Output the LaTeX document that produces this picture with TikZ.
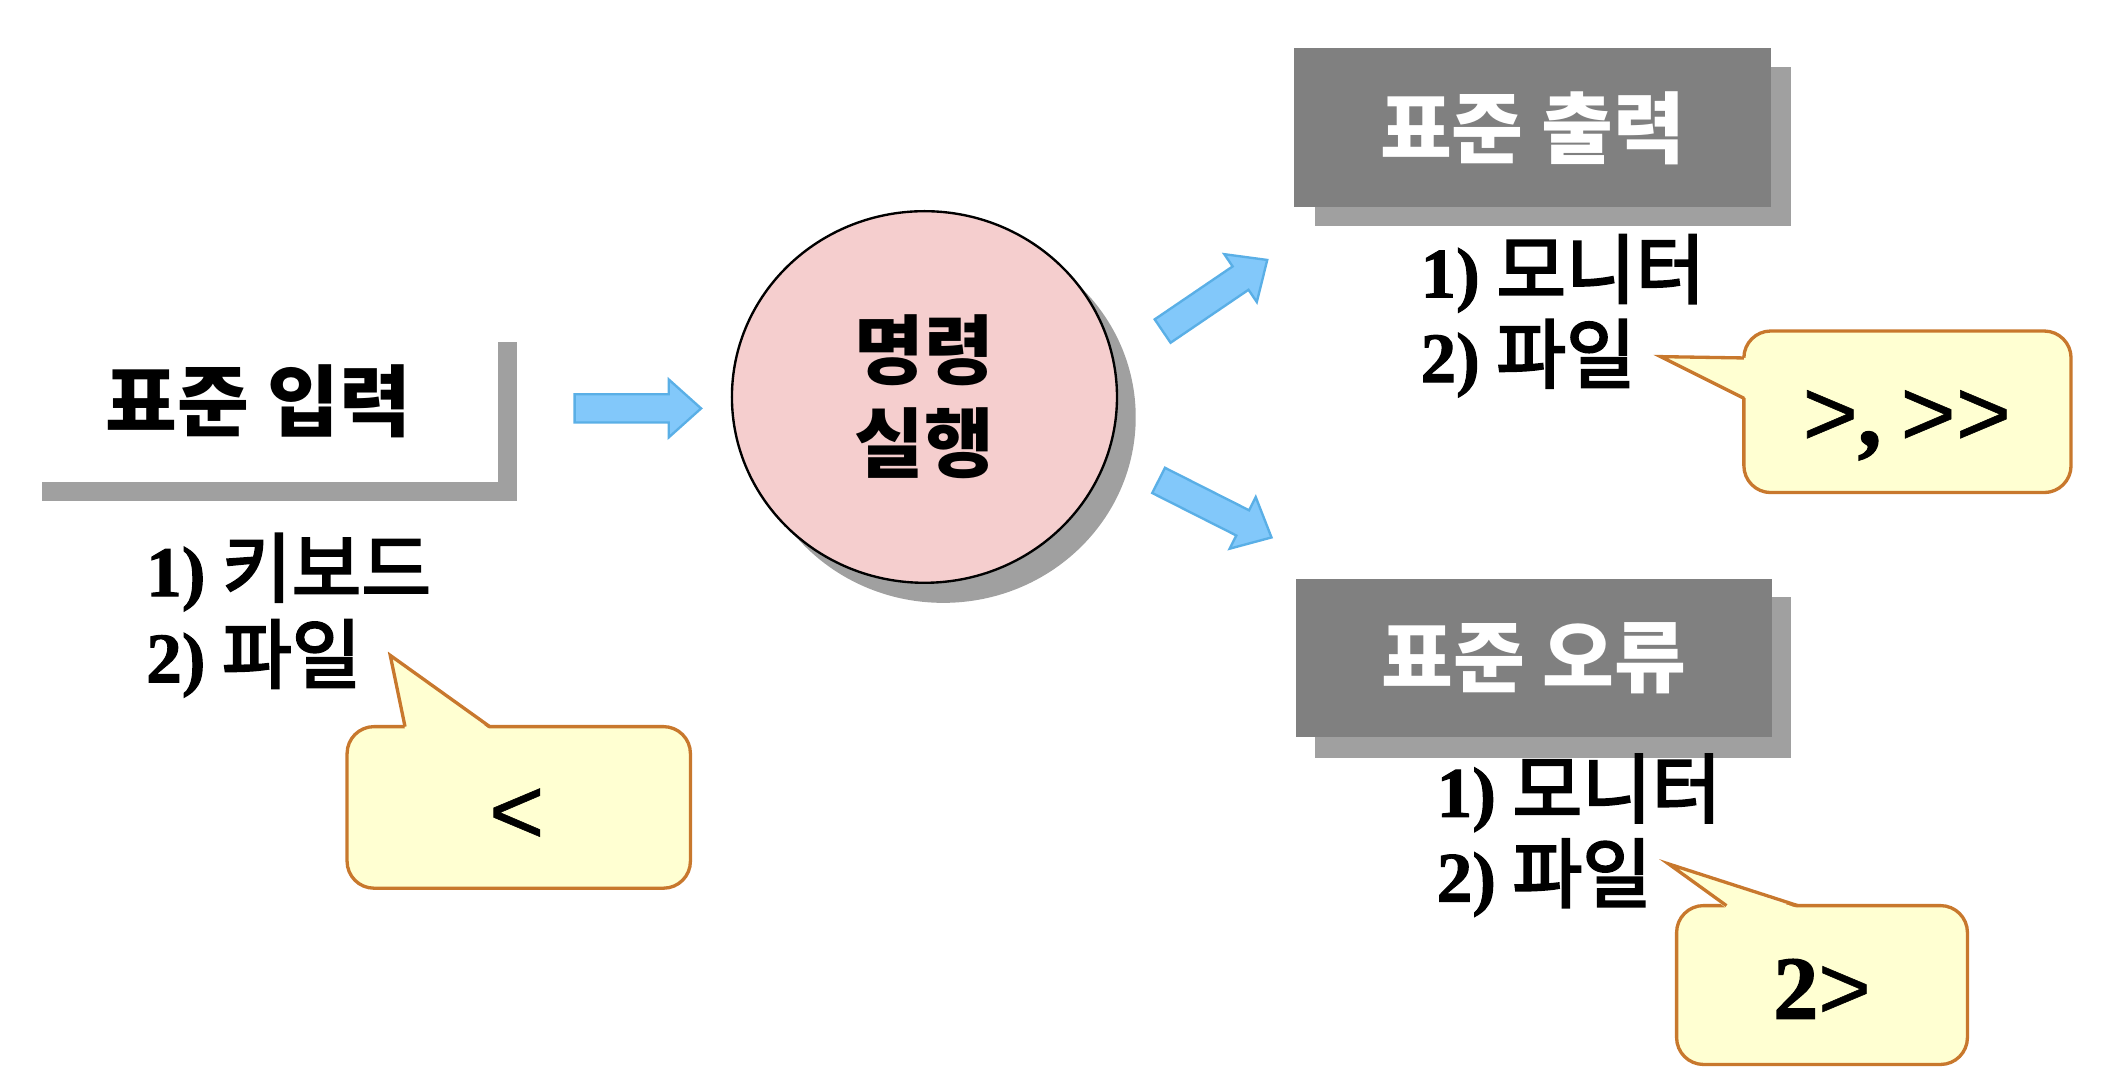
\documentclass[tikz,border=0pt]{standalone}
\usepackage{fontspec}
\setmainfont{Liberation Serif}
\newfontfamily\kr{Noto Sans CJK KR}
\newfontfamily\krl{Noto Sans CJK KR}[FakeBold=3]
\newfontfamily\tnrb{Liberation Serif}[BoldFeatures={FakeBold=1.5}]
\newfontfamily\arialf{Liberation Sans}[FakeBold=0.6]
\usetikzlibrary{shapes.geometric}

\definecolor{arrowfill}{RGB}{130,200,250}
\definecolor{arrowline}{RGB}{90,175,230}
\definecolor{boxgray}{RGB}{128,128,128}
\definecolor{shadowgray}{RGB}{160,160,160}
\definecolor{circlefill}{RGB}{245,206,206}
\definecolor{notefill}{RGB}{255,255,210}
\definecolor{noteline}{RGB}{200,120,45}

\newcommand{\itm}[2]{{\tnrb\bfseries\fontsize{15}{18}\selectfont #1)}\hspace{0.22em}{\krl #2}}

\tikzset{
  hdr/.style={font=\kr\bfseries\fontsize{16.5}{19}\selectfont, inner sep=0pt},
  darkbox/.style={fill=boxgray, minimum width=3.54cm, minimum height=1.18cm, inner sep=0pt,
                  text=white, font=\kr\bfseries\fontsize{16.5}{19}\selectfont},
  item/.style={anchor=base west, inner sep=0pt, font=\fontsize{16}{19}\selectfont},
  blockarrow/.style={fill=arrowfill, draw=arrowline, line width=0.5pt, line join=miter},
  note/.style={fill=notefill, draw=noteline, line width=0.7pt, rounded corners=0.2cm, inner sep=0pt},
  notetext/.style={anchor=base, inner sep=0pt},
  barrow/.pic={\draw[blockarrow] (0,-10.5) -- (70,-10.5) -- (70,-21.5) -- (94,0) -- (70,21.5) -- (70,10.5) -- (0,10.5) -- cycle;},
}

\begin{document}
\begin{tikzpicture}[x=0.01cm, y=-0.01cm]
\path[use as bounding box] (0,0) rectangle (1568,808);

% ---- standard input header
\fill[shadowgray] (31,254) rectangle (384,372);
\fill[white] (17,240) rectangle (370,358);
\node[hdr] (stdin) at (192,298) {표준 입력};
\node[item] (in1) at (108,443) {\itm{1}{키보드}};
\node[item] (in2) at (108,507) {\itm{2}{파일}};

% ---- arrows
\pic (arrin) at (427,303.5) {barrow};
\pic[rotate=34.2] (arrout) at (864,246) {barrow};
\pic[rotate=-26.8] (arrerr) at (861,357) {barrow};

% ---- command ellipse
\fill[shadowgray] (701,310) ellipse [x radius=143, y radius=138];
\node[draw=black, line width=0.5pt, ellipse, fill=circlefill, minimum width=2.86cm,
      minimum height=2.76cm, inner sep=0pt] (cmd) at (687,295) {};
\node[align=center, inner sep=0pt, font=\kr\bfseries\fontsize{16}{19.6}\selectfont] (cmdtxt)
      at (cmd.center) {명령\\실행};

% ---- standard output
\fill[shadowgray] (977,50) rectangle (1331,168);
\node[darkbox] (stdout) at (1139,95) {표준 출력};
\node[item] (out1) at (1055,221) {\itm{1}{모니터}};
\node[item] (out2) at (1055,284) {\itm{2}{파일}};

% ---- standard error
\fill[shadowgray] (977,444) rectangle (1331,563);
\node[darkbox] (stderr) at (1140,489) {표준 오류};
\node[item] (err1) at (1067,607) {\itm{1}{모니터}};
\node[item] (err2) at (1067,670) {\itm{2}{파일}};

% ---- callout "<"
\node[note, minimum width=2.55cm, minimum height=1.2cm] (n1) at (385.5,600) {};
\fill[notefill] (301,542) -- (290,487) -- (364,542) -- cycle;
\draw[noteline, line width=0.7pt, line join=miter] (301,540) -- (290,487) -- (364,540);
\node[notetext, font=\arialf\fontsize{20}{22}\selectfont] (n1t) at (384,627) {<};

% ---- callout ">, >>"
\node[note, minimum width=2.43cm, minimum height=1.2cm] (n2) at (1417.5,306) {};
\fill[notefill] (1298,266) -- (1234,265) -- (1298,296) -- cycle;
\draw[noteline, line width=0.7pt, line join=miter] (1296,266) -- (1234,265) -- (1296,296);
\node[notetext, font=\fontsize{20}{22}\selectfont] (n2t) at (1417,331)
      {{\arialf >}{\tnrb\bfseries ,}\hspace{0.2em}{\arialf >>}};

% ---- callout "2>"
\node[note, minimum width=2.16cm, minimum height=1.18cm] (n3) at (1354,732) {};
\fill[notefill] (1283,675) -- (1240,642) -- (1336,675) -- cycle;
\draw[noteline, line width=0.7pt, line join=miter] (1283,673) -- (1240,642) -- (1336,673);
\node[notetext, font=\fontsize{19}{21}\selectfont] (n3t) at (1354,757)
      {{\tnrb\bfseries 2}{\arialf >}};
\end{tikzpicture}
\end{document}
